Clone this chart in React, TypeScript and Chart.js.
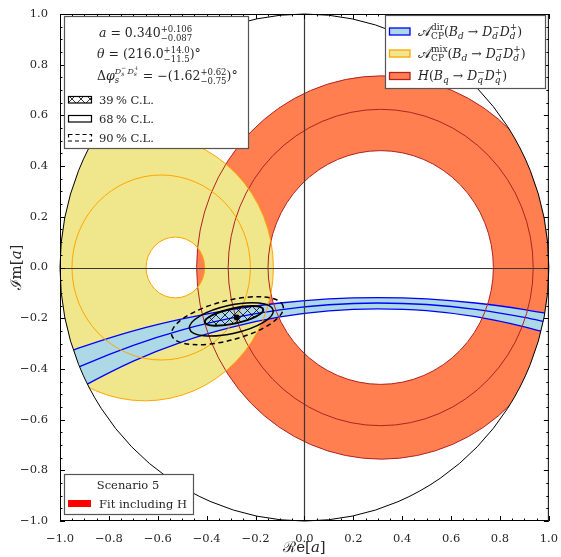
import React, { useEffect, useRef } from 'react';
import { Chart, registerables } from 'chart.js';
Chart.register(...registerables);

const FONT = '"DejaVu Serif", "Liberation Serif", serif';
const TXT = '#262626';

// ---------- axis ticks ----------
const tickValues = [-1.0, -0.8, -0.6, -0.4, -0.2, 0.0, 0.2, 0.4, 0.6, 0.8, 1.0];
const xTickLabels = ['−1.0', '−0.8', '−0.6', '−0.4', '−0.2', '0.0', '0.2', '0.4', '0.6', '0.8', '1.0'];
const yTickLabels = ['−1.0', '−0.8', '−0.6', '−0.4', '−0.2', '0.0', '0.2', '0.4', '0.6', '0.8', '1.0'];
const minorPerUnit = 20; // minor tick every 0.05

// ---------- A_CP^dir band ----------
const bandX = [-1.0, -0.9, -0.7, -0.5, -0.3, -0.1, 0.1, 0.3, 0.5, 0.7, 0.9, 1.0];
const bandUpper = [-0.344, -0.310, -0.250, -0.203, -0.166, -0.140, -0.124, -0.119, -0.124, -0.140, -0.166, -0.183];
const bandMid = [-0.428, -0.383, -0.307, -0.246, -0.200, -0.167, -0.147, -0.140, -0.146, -0.165, -0.197, -0.218];
const bandLower = [-0.522, -0.466, -0.369, -0.293, -0.236, -0.195, -0.171, -0.163, -0.170, -0.194, -0.234, -0.260];

// ---------- A_CP^mix region: [cx, cy, r] ----------
const mixOuter = [-0.653, 0, 0.526];
const mixInner = [-0.528, 0, 0.12];
const mixCentral = [-0.586, 0, 0.365];

// ---------- H region: [cx, cy, r] ----------
const hOuter = [0.315, 0, 0.756];
const hInner = [0.312, 0, 0.461];
const hCentral = [0.312, 0, 0.624];

// ---------- fit result ----------
const bestFit = [-0.277, -0.197];
// CL contours: [cx, cy, semi-major, semi-minor, angle (deg)]
const cl39 = [-0.288, -0.191, 0.122, 0.030, 12];
const cl68 = [-0.299, -0.2045, 0.175, 0.056, 12];
const cl90 = [-0.315, -0.210, 0.235, 0.078, 14];

// ---------- colours ----------
const H_FILL = '#ff7f50';
const H_EDGE = '#b22222';
const MIX_FILL = '#f0e68c';
const MIX_EDGE = '#ffa500';
const DIR_FILL = '#add8e6';
const DIR_EDGE = '#0000ff';

type Seg = { t?: string; it?: boolean; sz?: number; dy?: number; ret?: boolean; sync?: boolean };

function drawRich(ctx: CanvasRenderingContext2D, segs: Seg[], x: number, y: number, base = 11, measureOnly = false) {
  let cx = x, far = x;
  for (const s of segs) {
    if (s.sync) { cx = Math.max(cx, far); continue; }
    ctx.font = `${s.it ? 'italic ' : ''}${s.sz ?? base}px ${FONT}`;
    if (!measureOnly) ctx.fillText(s.t!, cx, y + (s.dy ?? 0));
    const w = ctx.measureText(s.t!).width;
    far = Math.max(far, cx + w);
    if (!s.ret) cx += w;
  }
  return Math.max(cx, far) - x;
}

function addEllipse(ctx: CanvasRenderingContext2D, xs: any, ys: any, cx: number, cy: number, a: number, b: number, angDeg = 0) {
  const px = xs.getPixelForValue(cx), py = ys.getPixelForValue(cy);
  const sx = xs.getPixelForValue(cx + 1) - px;
  const sy = ys.getPixelForValue(cy + 1) - py;
  const th = (angDeg * Math.PI) / 180;
  ctx.save();
  ctx.translate(px, py);
  ctx.scale(sx, sy);
  ctx.moveTo(a * Math.cos(th), a * Math.sin(th));
  ctx.ellipse(0, 0, a, b, th, 0, Math.PI * 2);
  ctx.closePath();
  ctx.restore();
}

function strokeCircle(ctx: CanvasRenderingContext2D, xs: any, ys: any, c: number[], color: string, lw: number) {
  ctx.beginPath();
  addEllipse(ctx, xs, ys, c[0], c[1], c[2], c[2]);
  ctx.strokeStyle = color;
  ctx.lineWidth = lw;
  ctx.stroke();
}

function makeHatch(ctx: CanvasRenderingContext2D) {
  const c = document.createElement('canvas');
  c.width = 9; c.height = 9;
  const g = c.getContext('2d')!;
  g.strokeStyle = '#000';
  g.lineWidth = 0.8;
  g.beginPath();
  g.moveTo(0, 0); g.lineTo(9, 9);
  g.moveTo(0, 9); g.lineTo(9, 0);
  g.stroke();
  return ctx.createPattern(c, 'repeat')!;
}

const SUP = 8.5;
const aLine: Seg[] = [{ t: 'a', it: true }, { t: ' = 0.340' }, { t: '+0.106', sz: SUP, dy: -5.5, ret: true }, { t: '−0.087', sz: SUP, dy: 3.5 }, { sync: true }];
const thLine: Seg[] = [{ t: 'θ', it: true }, { t: ' = (216.0' }, { t: '+14.0', sz: SUP, dy: -5.5, ret: true }, { t: '−11.5', sz: SUP, dy: 3.5 }, { sync: true }, { t: ')°' }];
const dphiLine: Seg[] = [
  { t: 'Δ' }, { t: 'φ', it: true },
  { t: 's', it: true, sz: 8.5, dy: 3, ret: true },
  { t: 'D', it: true, sz: 8, dy: -6 }, { t: 's', it: true, sz: 6, dy: -4, ret: true }, { t: '−', sz: 6, dy: -10 }, { sync: true },
  { t: '\u2009' , sz: 6 },
  { t: 'D', it: true, sz: 8, dy: -6 }, { t: 's', it: true, sz: 6, dy: -4, ret: true }, { t: '+', sz: 6, dy: -10 }, { sync: true },
  { t: ' = −(1.62' }, { t: '+0.62', sz: SUP, dy: -5.5, ret: true }, { t: '−0.75', sz: SUP, dy: 3.5 }, { sync: true }, { t: ')°' },
];
const SUB = 9;
function decayPart(q: string): Seg[] {
  return [
    { t: '(' }, { t: 'B', it: true }, { t: q, it: true, sz: SUB, dy: 3 }, { t: ' → ' },
    { t: 'D', it: true }, { t: q, it: true, sz: SUB, dy: 3, ret: true }, { t: '−', sz: SUB, dy: -5.5 }, { sync: true },
    { t: 'D', it: true }, { t: q, it: true, sz: SUB, dy: 3, ret: true }, { t: '+', sz: SUB, dy: -5.5 }, { sync: true },
    { t: ')' },
  ];
}
const dirLine: Seg[] = [{ t: '𝒜', sz: 14 }, { t: 'dir', sz: SUB, dy: -5.5, ret: true }, { t: 'CP', sz: SUB, dy: 3 }, { sync: true }, ...decayPart('d')];
const mixLine: Seg[] = [{ t: '𝒜', sz: 14 }, { t: 'mix', sz: SUB, dy: -5.5, ret: true }, { t: 'CP', sz: SUB, dy: 3 }, { sync: true }, ...decayPart('d')];
const hLine: Seg[] = [{ t: 'H', it: true }, ...decayPart('q')];

function legendBox(ctx: CanvasRenderingContext2D, x: number, y: number, w: number, h: number) {
  ctx.fillStyle = '#fff';
  ctx.fillRect(x, y, w, h);
  ctx.strokeStyle = '#555';
  ctx.lineWidth = 1.2;
  ctx.setLineDash([]);
  ctx.strokeRect(x + 0.5, y + 0.5, w, h);
}

const physicsPlugin = {
  id: 'physics',
  beforeDatasetsDraw(chart: any) {
    const { ctx, scales } = chart;
    const xs = scales.x, ys = scales.y;
    ctx.save();
    ctx.beginPath();
    addEllipse(ctx, xs, ys, 0, 0, 1, 1);
    ctx.clip();
    // H annulus
    ctx.beginPath();
    addEllipse(ctx, xs, ys, hOuter[0], hOuter[1], hOuter[2], hOuter[2]);
    addEllipse(ctx, xs, ys, hInner[0], hInner[1], hInner[2], hInner[2]);
    ctx.fillStyle = H_FILL;
    ctx.fill('evenodd');
    // A_CP^mix annulus
    ctx.beginPath();
    addEllipse(ctx, xs, ys, mixOuter[0], mixOuter[1], mixOuter[2], mixOuter[2]);
    addEllipse(ctx, xs, ys, mixInner[0], mixInner[1], mixInner[2], mixInner[2]);
    ctx.fillStyle = MIX_FILL;
    ctx.fill('evenodd');
  },
  afterDatasetsDraw(chart: any) {
    const { ctx, scales, chartArea } = chart;
    const xs = scales.x, ys = scales.y;
    strokeCircle(ctx, xs, ys, hOuter, H_EDGE, 1);
    strokeCircle(ctx, xs, ys, hInner, H_EDGE, 1);
    strokeCircle(ctx, xs, ys, hCentral, H_EDGE, 1);
    strokeCircle(ctx, xs, ys, mixOuter, MIX_EDGE, 1);
    strokeCircle(ctx, xs, ys, mixInner, MIX_EDGE, 1);
    strokeCircle(ctx, xs, ys, mixCentral, MIX_EDGE, 1);
    ctx.restore();

    // confidence contours
    ctx.save();
    ctx.beginPath();
    addEllipse(ctx, xs, ys, cl39[0], cl39[1], cl39[2], cl39[3], cl39[4]);
    ctx.fillStyle = makeHatch(ctx);
    ctx.fill();
    ctx.strokeStyle = '#000';
    ctx.lineWidth = 2;
    ctx.stroke();
    ctx.beginPath();
    addEllipse(ctx, xs, ys, cl68[0], cl68[1], cl68[2], cl68[3], cl68[4]);
    ctx.lineWidth = 1.5;
    ctx.stroke();
    ctx.beginPath();
    addEllipse(ctx, xs, ys, cl90[0], cl90[1], cl90[2], cl90[3], cl90[4]);
    ctx.setLineDash([5, 3.5]);
    ctx.lineWidth = 1.5;
    ctx.stroke();
    ctx.setLineDash([]);
    // best fit point
    ctx.beginPath();
    ctx.arc(xs.getPixelForValue(bestFit[0]), ys.getPixelForValue(bestFit[1]), 3, 0, Math.PI * 2);
    ctx.fillStyle = '#000';
    ctx.fill();

    // zero lines
    ctx.strokeStyle = '#3a3a3a';
    ctx.lineWidth = 1.2;
    const x0 = Math.round(xs.getPixelForValue(0)) + 0.5;
    const y0 = Math.round(ys.getPixelForValue(0)) + 0.5;
    ctx.beginPath();
    ctx.moveTo(x0, chartArea.top); ctx.lineTo(x0, chartArea.bottom);
    ctx.moveTo(chartArea.left, y0); ctx.lineTo(chartArea.right, y0);
    ctx.stroke();
    // unit circle
    strokeCircle(ctx, xs, ys, [0, 0, 1], '#000', 1);
    ctx.restore();
  },
  afterDraw(chart: any) {
    const { ctx, scales, chartArea } = chart;
    const xs = scales.x, ys = scales.y;
    const { left, right, top, bottom } = chartArea;
    ctx.save();
    // frame
    ctx.strokeStyle = '#000';
    ctx.lineWidth = 1;
    ctx.strokeRect(left + 0.5, top + 0.5, right - left - 1, bottom - top - 1);
    // ticks (inward, all sides)
    ctx.beginPath();
    for (let i = -minorPerUnit; i <= minorPerUnit; i++) {
      const v = i / minorPerUnit;
      const len = i % 4 === 0 ? 5 : 2.5;
      const px = Math.round(xs.getPixelForValue(v)) + 0.5;
      const py = Math.round(ys.getPixelForValue(v)) + 0.5;
      ctx.moveTo(px, bottom); ctx.lineTo(px, bottom - len);
      ctx.moveTo(px, top); ctx.lineTo(px, top + len);
      ctx.moveTo(left, py); ctx.lineTo(left + len, py);
      ctx.moveTo(right, py); ctx.lineTo(right - len, py);
    }
    ctx.stroke();

    ctx.textBaseline = 'alphabetic';
    ctx.textAlign = 'left';

    // --- top-left legend ---
    legendBox(ctx, 64, 16, 184, 132);
    ctx.fillStyle = TXT;
    drawRich(ctx, aLine, 99, 37, 12.5);
    drawRich(ctx, thLine, 97, 58, 12.5);
    drawRich(ctx, dphiLine, 97, 80, 12.5);
    // handles
    ctx.fillStyle = makeHatch(ctx);
    ctx.fillRect(68, 96, 24, 7);
    ctx.strokeStyle = '#000';
    ctx.lineWidth = 1.2;
    ctx.strokeRect(68.5, 96.5, 23, 6.5);
    ctx.strokeRect(68.5, 115.5, 23, 6.5);
    ctx.setLineDash([4, 3]);
    ctx.strokeRect(68.5, 134.5, 23, 6.5);
    ctx.setLineDash([]);
    ctx.fillStyle = TXT;
    ctx.font = `11.5px ${FONT}`;
    ctx.fillText('39\u2009% C.L.', 99, 104);
    ctx.fillText('68\u2009% C.L.', 99, 123);
    ctx.fillText('90\u2009% C.L.', 99, 142);

    // --- top-right legend ---
    legendBox(ctx, 385, 15, 160, 73);
    const rows: [Seg[], string, string, number][] = [
      [dirLine, DIR_FILL, DIR_EDGE, 31.5],
      [mixLine, MIX_FILL, MIX_EDGE, 53.5],
      [hLine, H_FILL, H_EDGE, 76],
    ];
    for (const [segs, fill, edge, cy] of rows) {
      ctx.fillStyle = fill;
      ctx.fillRect(389, cy - 3.5, 21, 7);
      ctx.strokeStyle = edge;
      ctx.lineWidth = 1.3;
      ctx.strokeRect(389.5, cy - 3.5, 20.5, 7);
      ctx.fillStyle = TXT;
      drawRich(ctx, segs, 418, cy + 4, 12.5);
    }

    // --- bottom-left legend ---
    legendBox(ctx, 64, 474, 129, 40);
    ctx.fillStyle = TXT;
    ctx.font = `11.5px ${FONT}`;
    ctx.textAlign = 'center';
    ctx.fillText('Scenario 5', 128, 489);
    ctx.textAlign = 'left';
    ctx.fillStyle = '#ff0000';
    ctx.fillRect(68, 500, 23, 7);
    ctx.fillStyle = TXT;
    ctx.fillText('Fit including H', 99, 508);

    // --- axis titles ---
    const xt: Seg[] = [{ t: 'ℛ' }, { t: 'e[' }, { t: 'a', it: true }, { t: ']' }];
    const yt: Seg[] = [{ t: 'ℐ' }, { t: 'm[' }, { t: 'a', it: true }, { t: ']' }];
    ctx.fillStyle = TXT;
    const wx = drawRich(ctx, xt, 0, 0, 15, true);
    drawRich(ctx, xt, (left + right) / 2 - wx / 2, 552, 15);
    const wy = drawRich(ctx, yt, 0, 0, 15, true);
    ctx.translate(21, (top + bottom) / 2);
    ctx.rotate(-Math.PI / 2);
    drawRich(ctx, yt, -wy / 2, 0, 15);
    ctx.restore();
  },
};

export default function App() {
  const ref = useRef<HTMLCanvasElement>(null);
  useEffect(() => {
    const pts = (ys: number[]) => bandX.map((x, i) => ({ x, y: ys[i] }));
    const lineDs = (label: string, ys: number[], extra: any = {}) => ({
      label,
      data: pts(ys),
      borderColor: DIR_EDGE,
      borderWidth: 1.3,
      pointRadius: 0,
      cubicInterpolationMode: 'monotone',
      fill: false,
      ...extra,
    });
    const chart = new Chart(ref.current!, {
      type: 'line',
      data: {
        // Chart.js paints the last dataset first, so the central line sits on top
        datasets: [
          lineDs('central', bandMid),
          lineDs('upper', bandUpper),
          lineDs('lower', bandLower, { fill: '-1', backgroundColor: DIR_FILL }),
        ],
      },
      options: {
        responsive: false,
        animation: false,
        events: [],
        layout: { padding: { top: 14, right: 12, left: 0, bottom: 0 } },
        plugins: { legend: { display: false }, tooltip: { enabled: false } },
        scales: {
          x: {
            type: 'linear',
            min: -1,
            max: 1,
            afterBuildTicks: (s: any) => { s.ticks = tickValues.map((v) => ({ value: v })); },
            afterFit: (s: any) => { s.height = 36; },
            ticks: {
              callback: (_v: any, i: number) => xTickLabels[i],
              font: { family: FONT, size: 11.5 },
              color: TXT,
              padding: 3,
              maxRotation: 0,
              autoSkip: false,
            },
            grid: { display: false },
            border: { display: false },
          },
          y: {
            type: 'linear',
            min: -1,
            max: 1,
            afterBuildTicks: (s: any) => { s.ticks = tickValues.map((v) => ({ value: v })); },
            afterFit: (s: any) => { s.width = 60; },
            ticks: {
              callback: (_v: any, i: number) => yTickLabels[i],
              font: { family: FONT, size: 11.5 },
              color: TXT,
              padding: 4,
              autoSkip: false,
            },
            grid: { display: false },
            border: { display: false },
          },
        },
      },
      plugins: [physicsPlugin],
    } as any);
    return () => chart.destroy();
  }, []);
  return (
    <div style={{ position: 'fixed', left: 0, top: 0, width: 561, height: 557, background: '#fff' }}>
      <canvas ref={ref} width={561} height={557} style={{ display: 'block' }} />
    </div>
  );
}
